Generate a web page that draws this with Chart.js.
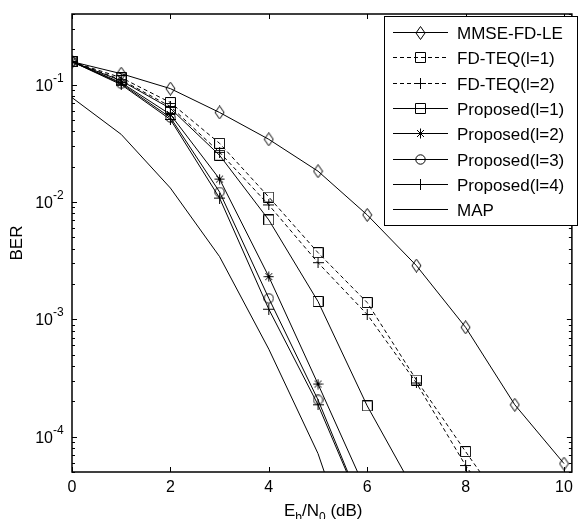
<!DOCTYPE html>
<html>
<head>
<meta charset="utf-8">
<script src="https://cdn.jsdelivr.net/npm/chart.js@4.4.1/dist/chart.umd.min.js"></script>
<style>
  html, body { margin: 0; padding: 0; background: #fff; }
</style>
</head>
<body>
<canvas id="berChart" width="579" height="519"></canvas>
<script>
// Eb/N0 points (dB)
const snr = [0, 1, 2, 3, 4, 5, 6, 7, 8, 9, 10];

// BER values (last points fall below the axis and get clipped)
const mmseFdLe   = [0.157, 0.124, 0.0925, 0.0579, 0.0342, 0.0183, 0.00776, 0.00287, 8.55e-4, 1.87e-4, 5.9e-5];
const fdTeq1     = [0.157, 0.1146, 0.0704, 0.0316, 0.01102, 0.0037, 0.00139, 3.04e-4, 7.46e-5, 1.9e-5];
const fdTeq2     = [0.157, 0.110, 0.0652, 0.0265, 0.00944, 0.00304, 0.0011, 2.87e-4, 5.68e-5, 1.45e-5];
const proposed1  = [0.157, 0.108, 0.0627, 0.025, 0.00703, 0.00142, 1.83e-4, 3.22e-5];
const proposed2  = [0.157, 0.104, 0.0557, 0.01567, 0.00231, 2.81e-4, 3.29e-5];
const proposed3  = [0.157, 0.102, 0.0525, 0.01216, 0.00151, 2.06e-4, 1.98e-5];
const proposed4  = [0.157, 0.100, 0.0505, 0.0108, 0.00122, 1.87e-4, 1.94e-5];
const mapBound   = [0.0776, 0.0377, 0.01315, 0.00342, 5.57e-4, 7.18e-5, 4.3e-6];

const seriesLabels = ["MMSE-FD-LE", "FD-TEQ(l=1)", "FD-TEQ(l=2)", "Proposed(l=1)",
                      "Proposed(l=2)", "Proposed(l=3)", "Proposed(l=4)", "MAP"];
const xTicks = [0, 2, 4, 6, 8, 10];
const yDecades = [1e-1, 1e-2, 1e-3, 1e-4];

const ink = "#000";
const fontName = "'Liberation Sans', Arial, sans-serif";

// matlab style hollow markers
function makeMarker(kind) {
  const c = document.createElement("canvas");
  const w = 11, h = kind === "diamond" ? 14 : 11;
  c.width = w; c.height = h;
  const g = c.getContext("2d");
  g.strokeStyle = ink;
  g.lineWidth = 1;
  const cx = w / 2, cy = h / 2;
  g.beginPath();
  if (kind === "diamond") {
    g.moveTo(cx, 0.5); g.lineTo(w - 1, cy); g.lineTo(cx, h - 0.5); g.lineTo(1, cy); g.closePath();
  } else if (kind === "square") {
    g.rect(0.5, 0.5, w - 1, h - 1);
  } else if (kind === "circle") {
    g.arc(cx, cy, 4.7, 0, Math.PI * 2);
  } else if (kind === "plus") {
    g.moveTo(cx, 0); g.lineTo(cx, h); g.moveTo(0, cy); g.lineTo(w, cy);
  } else if (kind === "star") {
    g.moveTo(cx, 0.5); g.lineTo(cx, h - 0.5); g.moveTo(0.5, cy); g.lineTo(w - 0.5, cy);
    g.moveTo(cx - 3.5, cy - 3.5); g.lineTo(cx + 3.5, cy + 3.5);
    g.moveTo(cx + 3.5, cy - 3.5); g.lineTo(cx - 3.5, cy + 3.5);
  }
  g.stroke();
  return c;
}

const markers = {
  diamond: makeMarker("diamond"),
  square: makeMarker("square"),
  circle: makeMarker("circle"),
  plus: makeMarker("plus"),
  star: makeMarker("star")
};

function pts(values) {
  return values.map((v, i) => ({ x: snr[i], y: v }));
}

function series(label, values, marker, dashed) {
  return {
    label: label,
    data: pts(values),
    borderColor: ink,
    borderWidth: 1,
    borderDash: dashed ? [4, 3] : [],
    pointStyle: marker ? markers[marker] : false,
    pointRadius: marker ? 5 : 0,
    pointHoverRadius: marker ? 5 : 0,
    fill: false,
    tension: 0
  };
}

const datasets = [
  series(seriesLabels[0], mmseFdLe, "diamond", false),
  series(seriesLabels[1], fdTeq1, "square", true),
  series(seriesLabels[2], fdTeq2, "plus", true),
  series(seriesLabels[3], proposed1, "square", false),
  series(seriesLabels[4], proposed2, "star", false),
  series(seriesLabels[5], proposed3, "circle", false),
  series(seriesLabels[6], proposed4, "plus", false),
  series(seriesLabels[7], mapBound, null, false)
];

// box, inward ticks, y labels with exponents, x label with subscripts
const axesPlugin = {
  id: "matlabAxes",
  afterDatasetsDraw(chart) {
    const ctx = chart.ctx;
    const a = chart.chartArea;
    const xs = chart.scales.x, ys = chart.scales.y;
    ctx.save();
    ctx.strokeStyle = ink;
    ctx.lineWidth = 1.5;
    ctx.strokeRect(a.left, a.top, a.right - a.left, a.bottom - a.top);

    ctx.lineWidth = 1;
    ctx.beginPath();
    xTicks.forEach(v => {
      const px = Math.round(xs.getPixelForValue(v)) + 0.5;
      ctx.moveTo(px, a.bottom); ctx.lineTo(px, a.bottom - 5);
      ctx.moveTo(px, a.top); ctx.lineTo(px, a.top + 5);
    });
    for (let e = -5; e <= 0; e++) {
      for (let m = 1; m <= 9; m++) {
        const v = m * Math.pow(10, e);
        if (v < ys.min || v > ys.max) continue;
        const py = Math.round(ys.getPixelForValue(v)) + 0.5;
        const len = m === 1 ? 5 : 3;
        ctx.moveTo(a.left, py); ctx.lineTo(a.left + len, py);
        ctx.moveTo(a.right, py); ctx.lineTo(a.right - len, py);
      }
    }
    ctx.stroke();

    ctx.fillStyle = ink;
    ctx.textBaseline = "alphabetic";
    yDecades.forEach(v => {
      const py = ys.getPixelForValue(v);
      const exp = Math.round(Math.log10(v));
      ctx.font = "16px " + fontName;
      ctx.textAlign = "right";
      ctx.fillText("10", 53, py + 6);
      ctx.font = "12px " + fontName;
      ctx.textAlign = "left";
      ctx.fillText(String(exp), 53, py - 3);
    });

    // E_b/N_0 (dB)
    let x = 284;
    const base = 516;
    const parts = [["E", 0, 17], ["b", 5, 12], ["/N", 0, 17], ["0", 5, 12], [" (dB)", 0, 17]];
    ctx.textAlign = "left";
    parts.forEach(p => {
      ctx.font = p[2] + "px " + fontName;
      ctx.fillText(p[0], x, base + p[1]);
      x += ctx.measureText(p[0]).width;
    });
    ctx.restore();
  }
};

// legend drawn inside the top right corner like the original figure
const legendPlugin = {
  id: "insideLegend",
  afterDraw(chart) {
    const ctx = chart.ctx;
    const box = { x: 384, y: 16, w: 193, h: 209 };
    ctx.save();
    ctx.fillStyle = "#fff";
    ctx.fillRect(box.x, box.y, box.w, box.h);
    ctx.strokeStyle = ink;
    ctx.lineWidth = 1;
    ctx.strokeRect(box.x + 0.5, box.y + 0.5, box.w, box.h);
    chart.data.datasets.forEach((ds, i) => {
      const y = Math.round(32 + i * 25.3) + 0.5;
      ctx.setLineDash(ds.borderDash);
      ctx.beginPath();
      ctx.moveTo(393, y); ctx.lineTo(448, y);
      ctx.stroke();
      ctx.setLineDash([]);
      if (ds.pointStyle) {
        const m = ds.pointStyle;
        ctx.drawImage(m, Math.round(420 - m.width / 2), Math.round(y - m.height / 2));
      }
      ctx.fillStyle = ink;
      ctx.font = "17px " + fontName;
      ctx.textAlign = "left";
      ctx.textBaseline = "alphabetic";
      ctx.fillText(ds.label, 457, y + 6);
    });
    ctx.restore();
  }
};

const config = {
  type: "line",
  data: { datasets: datasets },
  options: {
    responsive: false,
    devicePixelRatio: 1,
    animation: false,
    layout: { padding: { top: 14, right: 1, left: 0, bottom: 0 } },
    plugins: {
      legend: { display: false },
      tooltip: { enabled: false }
    },
    scales: {
      x: {
        type: "linear",
        min: 0,
        max: 10.16,
        grid: { display: false, drawTicks: false },
        border: { display: false },
        afterBuildTicks: s => { s.ticks = xTicks.map(v => ({ value: v })); },
        afterFit: s => { s.height = 47; },
        ticks: {
          color: ink,
          padding: 6,
          maxRotation: 0,
          font: { family: fontName, size: 16 }
        }
      },
      y: {
        type: "logarithmic",
        min: 5e-5,
        max: 0.4,
        grid: { display: false, drawTicks: false },
        border: { display: false },
        afterFit: s => { s.width = 72; },
        ticks: { display: false },
        title: {
          display: true,
          text: "BER",
          color: ink,
          padding: { top: 7, bottom: 0 },
          font: { family: fontName, size: 17 }
        }
      }
    }
  },
  plugins: [axesPlugin, legendPlugin]
};

const berChart = new Chart(document.getElementById("berChart"), config);
</script>
</body>
</html>
